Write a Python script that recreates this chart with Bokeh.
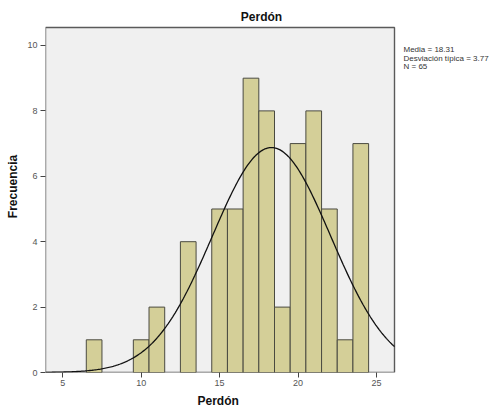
import numpy as np
from bokeh.plotting import figure
from bokeh.models import Range1d, FixedTicker, Title
from bokeh.core.properties import value
from bokeh.embed import file_html
from bokeh.resources import INLINE

# ---- data ----
bin_centers = [7, 10, 11, 13, 15, 16, 17, 18, 19, 20, 21, 22, 23, 24]
counts      = [1, 1, 2, 4, 5, 5, 9, 8, 2, 7, 8, 5, 1, 7]
bin_width = 1.0
mean_val = 18.31
sd_val = 3.77
n_val = 65
title_text = "Perdón"
x_label = "Perdón"
y_label = "Frecuencia"
stats_lines = ["Media = 18.31", "Desviación típica = 3.77", "N = 65"]
x_ticks = [5, 10, 15, 20, 25]
y_ticks = [0, 2, 4, 6, 8, 10]

# visible plot area (data units)
PX0, PX1 = 3.90, 26.15
PY0, PY1 = 0.0, 10.55

FONT = "Liberation Sans"

# canvas geometry: frame spans x 45..498, y 0..372 (px)
FL, FT, FR, FB = 45, 0, 498, 372
XS = 349.0 / (PX1 - PX0)      # px per x unit
YS = 345.0 / (PY1 - PY0)      # px per y unit
X1 = PX0 + (FR - FL) / XS
Y1 = PY0 + (FB - FT) / YS

def cx(px):
    return PX0 + (px - FL) / XS
def cy(py):
    return PY0 + (FB - py) / YS

p = figure(width=498, height=413, output_backend="svg", toolbar_location=None,
           x_range=Range1d(PX0, X1), y_range=Range1d(PY0, Y1))
p.min_border_left = FL
p.min_border_right = 0
p.min_border_top = 0
p.min_border_bottom = 413 - FB
p.background_fill_color = "white"
p.border_fill_color = "white"
p.outline_line_color = None
p.xgrid.visible = False
p.ygrid.visible = False

# plot area background + border
p.quad(left=[PX0], right=[PX1], bottom=[PY0], top=[PY1],
       fill_color="#f0f0f0", line_color="#5a5a5a", line_width=1.4)

p.quad(left=[c - bin_width / 2 for c in bin_centers],
       right=[c + bin_width / 2 for c in bin_centers],
       bottom=0, top=counts,
       fill_color="#d4cf98", line_color="#4a4a40", line_width=1)

xs = np.linspace(PX0, PX1, 300)
ys = n_val * bin_width / (sd_val * np.sqrt(2 * np.pi)) * np.exp(-0.5 * ((xs - mean_val) / sd_val) ** 2)
p.line(xs, ys, line_color="#111111", line_width=1.3)

for ax in (p.xaxis[0], p.yaxis[0]):
    ax.axis_line_color = None
    ax.major_tick_line_color = "#444444"
    ax.major_tick_out = 5
    ax.major_tick_in = 0
    ax.minor_tick_line_color = None
    ax.major_label_text_font = FONT
    ax.major_label_text_font_size = "9px"
    ax.major_label_text_color = "#555555"
    ax.axis_label_text_font = FONT
    ax.axis_label_text_font_size = "12px"
    ax.axis_label_text_font_style = "bold"
    ax.axis_label_text_color = "#111111"

p.xaxis[0].ticker = FixedTicker(ticks=x_ticks)
p.yaxis[0].ticker = FixedTicker(ticks=y_ticks)
p.yaxis[0].axis_label = y_label
p.xaxis[0].major_label_standoff = 2
p.yaxis[0].major_label_standoff = 3
p.yaxis[0].axis_label_standoff = 4

# x-axis title, centred under the visible plot area
p.add_layout(Title(text=x_label, align="left", offset=152, standoff=7,
                   text_font=FONT, text_font_size="12px", text_font_style="bold",
                   text_color="#111111"), "below")

# chart title
p.text(x=[cx(261)], y=[cy(16)], text=[title_text], text_align="center",
       text_baseline="middle", text_font=value(FONT), text_font_size="12px",
       text_font_style="bold", text_color="#111111")

# stats block
p.text(x=[cx(403)] * len(stats_lines),
       y=[cy(49 + 8.5 * i) for i in range(len(stats_lines))],
       text=stats_lines, text_align="left", text_baseline="middle",
       text_font=value(FONT), text_font_size="8px", text_color="#333333")

open("out.html", "w").write(file_html(p, INLINE))
